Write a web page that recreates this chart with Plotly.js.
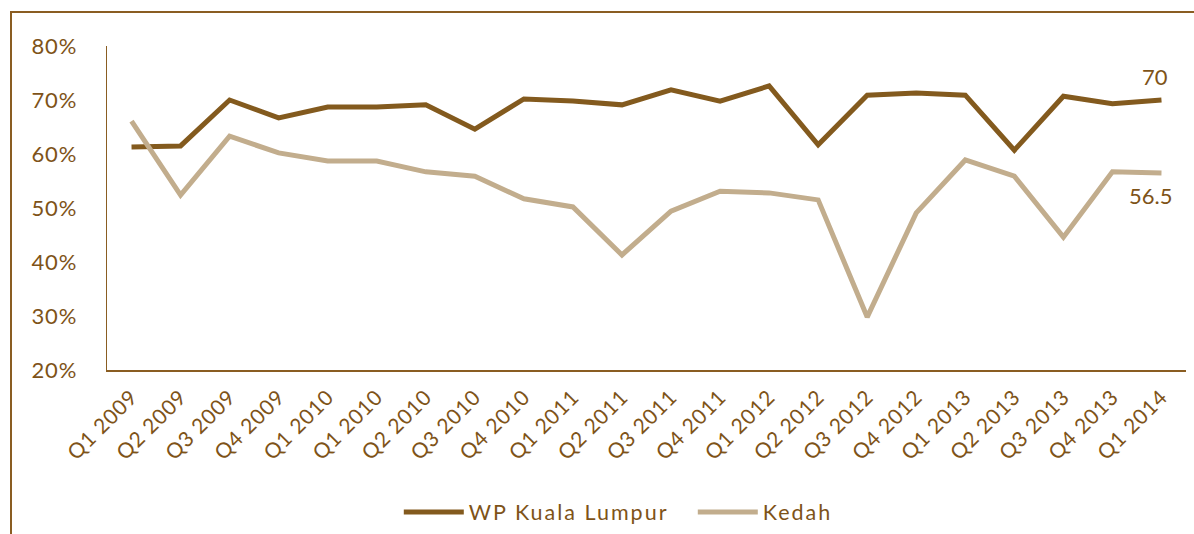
<!DOCTYPE html>
<html>
<head>
<meta charset="utf-8">
<script src="https://cdn.plot.ly/plotly-3.0.1.min.js"></script>
<style>
  html, body { margin: 0; padding: 0; background: #fff; }
  #wrap { position: relative; width: 1194px; height: 534px; overflow: hidden; }
  #frame { position: absolute; left: 10px; top: 11px; width: 1200px; height: 600px;
           border-top: 2px solid #8A5D22; border-left: 2px solid #8A5D22; pointer-events: none; }
  #chart { position: absolute; left: 0; top: 0; width: 1194px; height: 534px; }
</style>
</head>
<body>
<div id="wrap">
  <div id="chart"></div>
  <div id="frame"></div>
</div>
<script>
const quarters = ["Q1 2009","Q2 2009","Q3 2009","Q4 2009","Q1 2010","Q1 2010","Q2 2010","Q3 2010","Q4 2010",
  "Q1 2011","Q2 2011","Q3 2011","Q4 2011","Q1 2012","Q2 2012","Q3 2012","Q4 2012","Q1 2013","Q2 2013",
  "Q3 2013","Q4 2013","Q1 2014"];
const kualaLumpur = [61.3,61.5,70.0,66.7,68.7,68.7,69.1,64.6,70.2,69.8,69.1,71.9,69.8,72.6,61.7,70.9,71.3,70.9,60.7,70.7,69.3,70.0];
const kedah = [66.1,52.4,63.3,60.2,58.7,58.7,56.7,55.9,51.7,50.2,41.3,49.4,53.1,52.8,51.5,29.8,49.1,58.9,55.9,44.6,56.7,56.5];
const seriesNames = ["WP Kuala Lumpur", "Kedah"];
const yTicks = [20,30,40,50,60,70,80];
const yTickText = ["20%","30%","40%","50%","60%","70%","80%"];
const endLabels = ["70","56.5"];

const idx = quarters.map((q,i)=>i);
const last = idx.length - 1;
const txtColor = "#7E5318";
const font = "Lato, 'Open Sans', sans-serif";
const spaced = (s, px) => '<span style="letter-spacing:' + px + 'px">' + s + '</span>';

const traces = [
  {x: idx, y: kualaLumpur, name: spaced(seriesNames[0], 2), type: "scatter", mode: "lines",
   line: {color: "#835A1E", width: 5}},
  {x: idx, y: kedah, name: spaced(seriesNames[1], 2), type: "scatter", mode: "lines",
   line: {color: "#C2AD8D", width: 5}}
];

const layout = {
  width: 1194, height: 534,
  margin: {l: 107, r: 8, t: 46, b: 164, autoexpand: false},
  paper_bgcolor: "rgba(0,0,0,0)", plot_bgcolor: "rgba(0,0,0,0)",
  font: {family: font, color: txtColor, size: 20},
  showlegend: true,
  legend: {orientation: "h", xref: "container", yref: "container", x: 0.334, xanchor: "left",
           y: 0.041, yanchor: "middle",
           font: {size: 21.5, color: txtColor}, itemwidth: 60, tracegroupgap: 0,
           entrywidth: 219},
  xaxis: {range: [-0.5, last + 0.5], tickmode: "array", tickvals: idx,
          ticktext: quarters.map(q => spaced(q, 0.8)), automargin: false,
          tickangle: -45, showgrid: false, zeroline: false, showline: true,
          linecolor: "#8A5D22", linewidth: 1.5, ticks: "", ticklabelstandoff: 5,
          tickfont: {size: 21, color: txtColor}},
  yaxis: {range: [20, 80], tickmode: "array", tickvals: yTicks, ticktext: yTickText.map(t => spaced(t, 0.8)),
          automargin: false,
          showgrid: false, zeroline: false, showline: true, linecolor: "#8A5D22", linewidth: 1.5,
          ticks: "", ticklabelstandoff: 24, tickfont: {size: 22, color: txtColor}},
  annotations: [
    {x: last, y: kualaLumpur[last], text: endLabels[0], showarrow: false, xanchor: "center",
     yanchor: "bottom", yshift: 8, xshift: -6, font: {size: 22, color: txtColor}},
    {x: last, y: kedah[last], text: endLabels[1], showarrow: false, xanchor: "center",
     yanchor: "top", yshift: -7, xshift: -11, font: {size: 22, color: txtColor}}
  ]
};

Plotly.newPlot("chart", traces, layout, {displayModeBar: false, staticPlot: true});
</script>
</body>
</html>
